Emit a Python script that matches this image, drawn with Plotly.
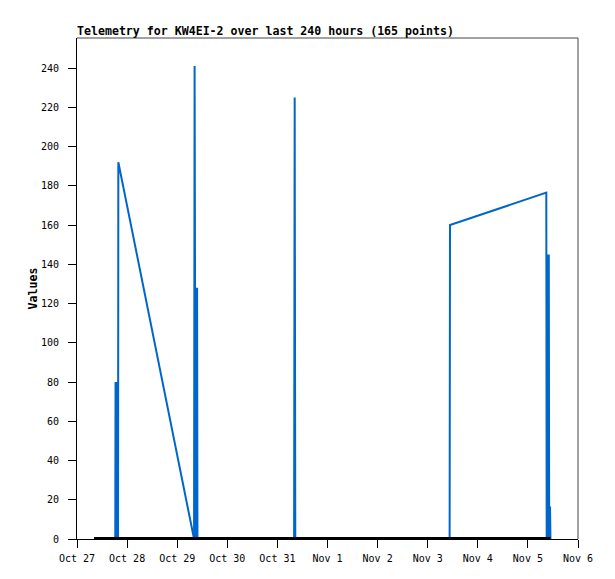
import plotly.graph_objects as go

# ---- data ----
blue_times = [
    "2024-10-27 08:10", "2024-10-27 18:20", "2024-10-27 18:28", "2024-10-27 18:40",
    "2024-10-27 18:48", "2024-10-27 19:00", "2024-10-27 19:08", "2024-10-27 19:20",
    "2024-10-27 19:30", "2024-10-27 19:40", "2024-10-27 19:48",
    "2024-10-29 07:42", "2024-10-29 08:05", "2024-10-29 08:20", "2024-10-29 08:30",
    "2024-10-29 08:38", "2024-10-29 08:48", "2024-10-29 08:56", "2024-10-29 09:06",
    "2024-10-29 09:14", "2024-10-29 09:24", "2024-10-29 09:32", "2024-10-29 09:42",
    "2024-10-31 08:00", "2024-10-31 08:17", "2024-10-31 08:34",
    "2024-11-03 10:30", "2024-11-03 10:41",
    "2024-11-05 08:49", "2024-11-05 09:00", "2024-11-05 09:06", "2024-11-05 09:18",
    "2024-11-05 09:24", "2024-11-05 09:36", "2024-11-05 09:42", "2024-11-05 09:54",
    "2024-11-05 10:00", "2024-11-05 10:12", "2024-11-05 10:18", "2024-11-05 10:30",
    "2024-11-05 10:36", "2024-11-05 10:48",
]
blue_values = [
    0, 0, 80, 0,
    80, 0, 80, 0,
    80, 0, 192,
    1, 0, 241, 0,
    128, 0, 128, 0,
    128, 0, 128, 0,
    0, 225, 0,
    0, 160,
    176.5, 0, 145, 0,
    145, 0, 145, 0,
    145, 0, 16.5, 0,
    16.5, 0,
]
black_times = ["2024-10-27 08:10", "2024-11-05 10:48"]
black_values = [0, 0]

x_tick_vals = ["2024-10-27", "2024-10-28", "2024-10-29", "2024-10-30", "2024-10-31",
               "2024-11-01", "2024-11-02", "2024-11-03", "2024-11-04", "2024-11-05",
               "2024-11-06"]
x_tick_text = ["Oct 27", "Oct 28", "Oct 29", "Oct 30", "Oct 31", "Nov 1", "Nov 2",
               "Nov 3", "Nov 4", "Nov 5", "Nov 6"]
y_tick_vals = [0, 20, 40, 60, 80, 100, 120, 140, 160, 180, 200, 220, 240]

title_text = "Telemetry for KW4EI-2 over last 240 hours (165 points)"
y_title = "Values"

MONO = "DejaVu Sans Mono"

fig = go.Figure()
fig.add_trace(go.Scatter(x=blue_times, y=blue_values, mode="lines",
                         line=dict(color="#0066cc", width=2), showlegend=False))
fig.add_trace(go.Scatter(x=black_times, y=black_values, mode="lines",
                         line=dict(color="#000000", width=4), showlegend=False))

# page body has an 8px margin, so the figure is sized/offset to compensate
fig.update_layout(
    width=607, height=571,
    margin=dict(l=69, r=37, t=30, b=40),
    paper_bgcolor="white", plot_bgcolor="white",
    font=dict(family=MONO, size=10, color="black"),
    shapes=[
        dict(type="line", xref="paper", yref="paper", x0=0, x1=1, y0=1, y1=1,
             line=dict(color="#444444", width=1), layer="above"),
        dict(type="line", xref="paper", yref="paper", x0=1, x1=1, y0=0, y1=1,
             line=dict(color="#444444", width=1), layer="above"),
    ],
    annotations=[
        dict(text="<b>" + title_text + "</b>", xref="paper", yref="paper",
             x=0, y=1, xanchor="left", yanchor="bottom", yshift=-2, xshift=-2,
             showarrow=False, font=dict(family=MONO, size=11.6, color="black")),
        dict(text="<b>" + y_title + "</b>", xref="paper", yref="paper",
             x=0, y=0.5, xanchor="center", yanchor="middle", xshift=-45,
             textangle=-90, showarrow=False,
             font=dict(family=MONO, size=11.6, color="black")),
    ],
)
fig.update_xaxes(
    type="date", range=["2024-10-27", "2024-11-06"],
    tickvals=x_tick_vals, ticktext=x_tick_text,
    showgrid=False, zeroline=False,
    showline=True, linecolor="black", linewidth=1,
    ticks="outside", ticklen=8, tickcolor="black", tickwidth=1,
    ticklabelstandoff=2,
    tickfont=dict(family=MONO, size=10, color="black"),
)
fig.update_yaxes(
    range=[0, 255.3], tickvals=y_tick_vals,
    showgrid=False, zeroline=False,
    showline=True, linecolor="black", linewidth=1,
    ticks="outside", ticklen=8, tickcolor="black", tickwidth=1,
    ticklabelstandoff=7,
    tickfont=dict(family=MONO, size=10, color="black"),
)

fig.write_html("out.html")
